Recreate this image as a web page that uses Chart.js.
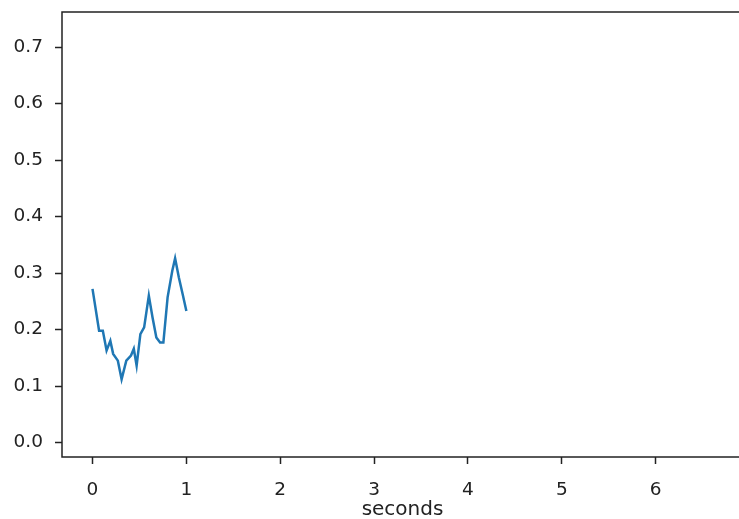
<!DOCTYPE html>
<html>
<head>
<meta charset="utf-8">
<script src="https://cdn.jsdelivr.net/npm/chart.js@4/dist/chart.umd.min.js"></script>
<style>
  html, body { margin: 0; padding: 0; background: #fff; overflow: hidden; }
  #wrap { width: 745px; height: 519px; }
</style>
</head>
<body>
<div id="wrap"><canvas id="signal"></canvas></div>
<script>
// time (s) and value
const seconds = [0, 0.07, 0.11, 0.15, 0.19, 0.22, 0.27, 0.31, 0.36, 0.41, 0.44, 0.47, 0.51,
  0.55, 0.60, 0.64, 0.68, 0.72, 0.755, 0.80, 0.85, 0.88, 0.92, 0.96, 1.0];
const values = [0.272, 0.198, 0.198, 0.163, 0.18, 0.157, 0.145, 0.112, 0.145, 0.154, 0.166, 0.136, 0.192,
  0.204, 0.26, 0.221, 0.186, 0.177, 0.177, 0.257, 0.304, 0.326, 0.292, 0.263, 0.233];

const xTicks = [0, 1, 2, 3, 4, 5, 6];
const yTicks = [0.0, 0.1, 0.2, 0.3, 0.4, 0.5, 0.6, 0.7];

const points = seconds.map((s, i) => ({ x: s, y: values[i] }));

// matplotlib style frame round the plot area
const frame = {
  id: "frame",
  afterDraw(chart) {
    const a = chart.chartArea;
    const ctx = chart.ctx;
    ctx.save();
    ctx.strokeStyle = "#222";
    ctx.lineWidth = 1.5;
    ctx.strokeRect(a.left, a.top, a.right - a.left, a.bottom - a.top);
    ctx.restore();
  },
};

const tickFont = { family: "DejaVu Sans", size: 18.5 };
const titleFont = { family: "DejaVu Sans", size: 20 };

var ctx = document.getElementById("signal");
var myChart = new Chart(ctx, {
  type: "line",
  data: {
    datasets: [
      {
        data: points,
        borderColor: "#1f77b4",
        backgroundColor: "#1f77b4",
        borderWidth: 2.5,
        pointRadius: 0,
        fill: false,
        tension: 0,
      },
    ],
  },
  options: {
    responsive: true,
    maintainAspectRatio: false,
    animation: false,
    layout: { padding: { top: 12, right: 2, left: 0, bottom: 0 } },
    plugins: { legend: { display: false }, tooltip: { enabled: false } },
    scales: {
      x: {
        type: "linear",
        min: -0.325,
        max: 6.93,
        afterBuildTicks: (scale) => {
          scale.ticks = xTicks.map((v) => ({ value: v }));
        },
        afterFit: (scale) => {
          scale.height = 62;
          scale.paddingLeft = 0;
          scale.paddingRight = 0;
        },
        grid: { drawOnChartArea: false, tickLength: 7, color: "#222", tickWidth: 1.5 },
        border: { display: false },
        ticks: { color: "#222", font: tickFont, padding: 15, maxRotation: 0 },
        title: {
          display: true,
          text: "seconds",
          color: "#222",
          font: titleFont,
          padding: { top: 2, bottom: -3 },
        },
      },
      y: {
        min: -0.0255,
        max: 0.762,
        afterBuildTicks: (scale) => {
          scale.ticks = yTicks.map((v) => ({ value: v }));
        },
        afterFit: (scale) => {
          scale.width = 62;
          scale.paddingTop = 0;
          scale.paddingBottom = 0;
        },
        grid: { drawOnChartArea: false, tickLength: 7, color: "#222", tickWidth: 1.5 },
        border: { display: false },
        ticks: {
          color: "#222",
          font: tickFont,
          padding: 12,
          callback: (v) => Number(v).toFixed(1),
        },
      },
    },
  },
  plugins: [frame],
});
</script>
</body>
</html>
